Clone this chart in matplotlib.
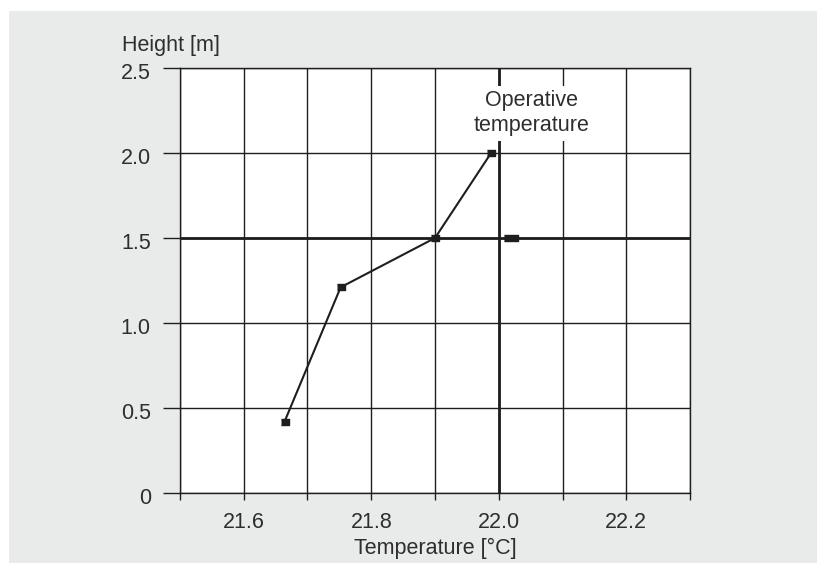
import numpy as np
import matplotlib.pyplot as plt
import matplotlib.transforms as mtransforms
from matplotlib.patches import Rectangle

plt.rcParams['font.family'] = ['Liberation Sans', 'DejaVu Sans']

# measured profile
temp = [21.664, 21.752, 21.90, 21.988]
height = [0.42, 1.21, 1.50, 2.00]

# operative temperature point
op_temp = [22.02]
op_height = [1.5]

x_ticks = [21.6, 21.8, 22.0, 22.2]
y_ticks = [0, 0.5, 1.0, 1.5, 2.0, 2.5]
y_labels = ['0', '0.5', '1.0', '1.5', '2.0', '2.5']

ink = '#1e1e1e'
txt = '#2e2e2e'
fs = 15.5

fig = plt.figure(figsize=(8.17, 5.63), dpi=100, facecolor='white')
# grey panel behind the chart
fig.patches.append(Rectangle((9/817, 0), 1, 1 - 11/563, transform=fig.transFigure,
                             facecolor='#e9eaea', edgecolor='none', zorder=-10))

ax = fig.add_axes([180/817, 70/563, 510/817, 425/563])
ax.set_facecolor('white')

ax.set_xlim(21.5, 22.3)
ax.set_ylim(0, 2.5)

xt = np.round(np.arange(21.5, 22.31, 0.1), 1)
ax.set_xticks(xt)
ax.set_xticklabels(['%.1f' % v if v in x_ticks else '' for v in xt])
ax.set_yticks(y_ticks)
ax.set_yticklabels(y_labels)

ax.grid(True, color=ink, linewidth=1.0)
ax.set_axisbelow(True)

ax.tick_params(axis='x', direction='out', length=5, width=1.0, color=ink,
               labelsize=fs, labelcolor=txt, pad=9)
ax.tick_params(axis='y', direction='out', length=12, width=1.0, color=ink,
               labelsize=fs, labelcolor=txt, pad=9)
shift = mtransforms.ScaledTranslation(0, -3/100, fig.dpi_scale_trans)
for lab in ax.get_yticklabels():
    lab.set_transform(lab.get_transform() + shift)

for side in ['left', 'right', 'top', 'bottom']:
    ax.spines[side].set_color(ink)
    ax.spines[side].set_linewidth(1.0)

ax.axhline(1.5, color=ink, linewidth=2.0, zorder=2)
ax.axvline(22.0, color=ink, linewidth=2.0, zorder=2)

box = [(-1.5, -1), (1.5, -1), (1.5, 1), (-1.5, 1)]
ax.plot(temp, height, color=ink, linewidth=1.5, marker=box, markersize=6,
        markerfacecolor=ink, markeredgecolor=ink, zorder=4)

wide = [(-2, -0.9), (2, -0.9), (2, 0.9), (-2, 0.9)]
ax.plot(op_temp, op_height, linestyle='none', marker=wide, markersize=10,
        color=ink, zorder=4)

ax.text(22.052, 2.235, 'Operative\ntemperature', ha='center', va='center',
        fontsize=fs, color=txt, linespacing=1.3, zorder=5,
        bbox=dict(facecolor='white', edgecolor='none', pad=3))

fig.text(122/817, 1 - 45/563, 'Height [m]', ha='left', va='center',
         fontsize=fs, color=txt)
ax.set_xlabel('Temperature [°C]', fontsize=fs, color=txt, labelpad=3)

fig.savefig('out.png', dpi=100, facecolor=fig.get_facecolor())
